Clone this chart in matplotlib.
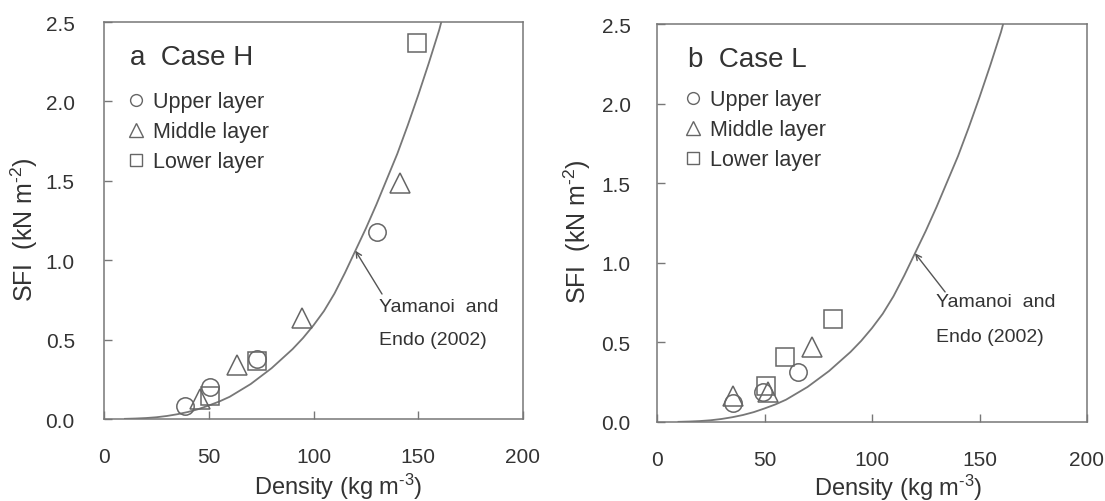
import matplotlib
matplotlib.use("Agg")
import matplotlib.pyplot as plt
from matplotlib.lines import Line2D

plt.rcParams['font.family'] = ['Liberation Sans', 'DejaVu Sans']
plt.rcParams['mathtext.fontset'] = 'custom'
plt.rcParams['mathtext.rm'] = 'Liberation Sans'
plt.rcParams['mathtext.default'] = 'regular'
TXT = '#333333'
EDGE = '#666666'

# Case H (panel a)
h_upper_x = [38.7, 50.6, 72.9, 130.2]
h_upper_y = [0.08, 0.20, 0.378, 1.176]
h_middle_x = [45.8, 63.6, 94.4, 141.3]
h_middle_y = [0.126, 0.34, 0.634, 1.486]
h_lower_x = [50.6, 72.9, 149.2]
h_lower_y = [0.147, 0.367, 2.37]

# Case L (panel b)
l_upper_x = [35.2, 49.5, 65.7]
l_upper_y = [0.119, 0.19, 0.316]
l_middle_x = [35.2, 51.8, 72.0]
l_middle_y = [0.165, 0.19, 0.47]
l_lower_x = [50.7, 59.5, 82.0]
l_lower_y = [0.228, 0.406, 0.647]

# Yamanoi and Endo (2002) curve
curve_x = [10, 15, 20, 25, 30, 35, 40, 45, 50, 55, 60, 65, 70, 75, 80, 85, 90, 95, 100,
           105, 110, 115, 120, 125, 130, 135, 140, 145, 150, 155, 160, 163]
curve_y = [0.001, 0.003, 0.006, 0.011, 0.019, 0.03, 0.044, 0.062, 0.085, 0.11, 0.14,
           0.18, 0.22, 0.27, 0.32, 0.38, 0.44, 0.51, 0.59, 0.68, 0.79, 0.92, 1.06, 1.20,
           1.35, 1.51, 1.67, 1.85, 2.04, 2.24, 2.45, 2.60]

x_ticks = [0, 50, 100, 150, 200]
y_ticks = [0.0, 0.5, 1.0, 1.5, 2.0, 2.5]

fig = plt.figure(figsize=(11.05, 5.02), dpi=100)
ax_a = fig.add_axes([104 / 1105, 1 - 420 / 502, 419 / 1105, 397 / 502])
ax_b = fig.add_axes([657 / 1105, 1 - 423 / 502, 430 / 1105, 398 / 502])

panels = [
    (ax_a, 'a  Case H', (h_upper_x, h_upper_y), (h_middle_x, h_middle_y), (h_lower_x, h_lower_y),
     (12.4, 2.28), (0.056, 0.826), (131.3, 0.71, 0.50), (132.7, 0.787), 21, -0.153, -0.131),
    (ax_b, 'b  Case L', (l_upper_x, l_upper_y), (l_middle_x, l_middle_y), (l_lower_x, l_lower_y),
     (14.4, 2.28), (0.064, 0.836), (129.8, 0.754, 0.534), (134.0, 0.817), 19, -0.149, -0.124),
]

for ax, title, up, mid, low, tpos, lpos, ypos, apos, ypad, ylx, xly in panels:
    ax.plot(curve_x, curve_y, color='#777777', linewidth=1.3, zorder=2)
    ax.plot(*up, linestyle='none', marker='o', markersize=12.5, markerfacecolor='none',
            markeredgecolor=EDGE, markeredgewidth=1.1, zorder=3)
    ax.plot(*mid, linestyle='none', marker='^', markersize=15, markerfacecolor='none',
            markeredgecolor=EDGE, markeredgewidth=1.1, zorder=3)
    ax.plot(*low, linestyle='none', marker='s', markersize=13, markerfacecolor='none',
            markeredgecolor=EDGE, markeredgewidth=1.1, zorder=3)

    ax.set_xlim(0, 200)
    ax.set_ylim(0, 2.5)
    ax.set_xticks(x_ticks)
    ax.set_yticks(y_ticks)
    ax.set_xticklabels([str(v) for v in x_ticks])
    ax.set_yticklabels(['%.1f' % v for v in y_ticks])
    ax.tick_params(axis='x', direction='in', length=6, width=1, color='#777777',
                   labelsize=15, labelcolor=TXT, pad=20)
    ax.tick_params(axis='y', direction='in', length=6, width=1, color='#777777',
                   labelsize=15, labelcolor=TXT, pad=ypad)
    for spine in ax.spines.values():
        spine.set_color('#777777')
        spine.set_linewidth(1.1)

    ax.set_xlabel(r'Density (kg m$^{\text{-}3}$)', fontsize=17, color=TXT)
    ax.xaxis.set_label_coords(0.56, xly)
    ax.set_ylabel(r'SFI  (kN m$^{\text{-}2}$)', fontsize=18, color=TXT)
    ax.yaxis.set_label_coords(ylx, 0.48)

    ax.text(tpos[0], tpos[1], title, fontsize=20, color=TXT, ha='left', va='center')

    handles = [
        Line2D([], [], linestyle='none', marker='o', markersize=8.5, markerfacecolor='none',
               markeredgecolor=EDGE, markeredgewidth=1.0),
        Line2D([], [], linestyle='none', marker='^', markersize=9.5, markerfacecolor='none',
               markeredgecolor=EDGE, markeredgewidth=1.0),
        Line2D([], [], linestyle='none', marker='s', markersize=8.5, markerfacecolor='none',
               markeredgecolor=EDGE, markeredgewidth=1.0),
    ]
    leg = ax.legend(handles, ['Upper layer', 'Middle layer', 'Lower layer'], loc='upper left',
                    bbox_to_anchor=lpos, frameon=False, fontsize=15.5, handlelength=0.8,
                    handletextpad=0.39, labelspacing=0.42, borderpad=0, borderaxespad=0)
    for t in leg.get_texts():
        t.set_color(TXT)

    ax.text(ypos[0], ypos[1], 'Yamanoi  and', fontsize=14, color=TXT, ha='left', va='center')
    ax.text(ypos[0], ypos[2], 'Endo (2002)', fontsize=14, color=TXT, ha='left', va='center')
    ax.annotate('', xy=(120, 1.06), xytext=apos,
                arrowprops=dict(arrowstyle='->', color='#555555', linewidth=1.0,
                                shrinkA=0, shrinkB=0))

fig.savefig('out.png', dpi=100)
